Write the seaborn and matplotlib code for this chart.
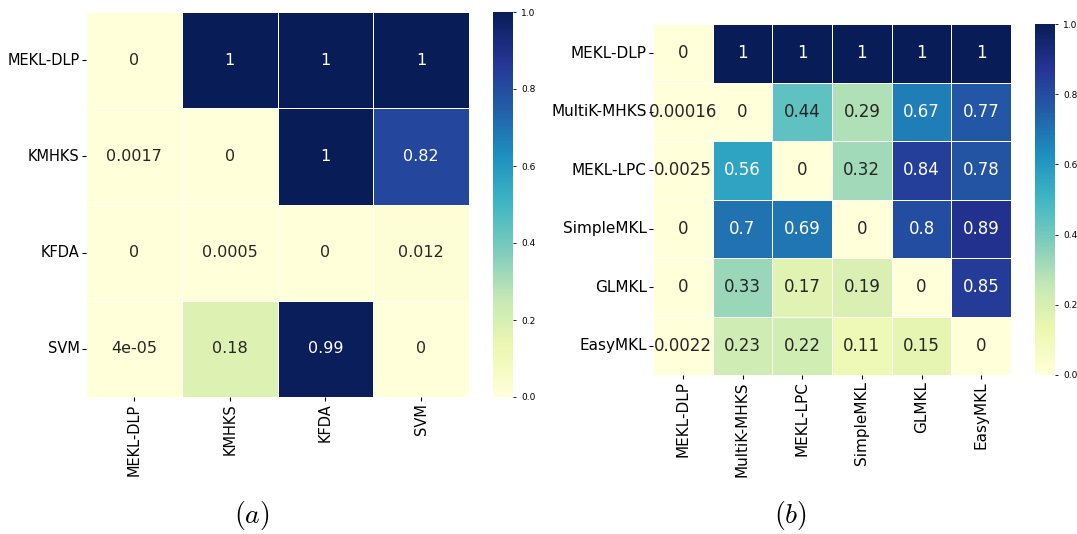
import matplotlib
matplotlib.use("Agg")
import matplotlib.pyplot as plt
import numpy as np
import pandas as pd
import seaborn as sns

# Panel (a): pairwise p-values
methods_a = ["MEKL-DLP", "KMHKS", "KFDA", "SVM"]
vals_a = [
    [0, 1, 1, 1],
    [0.0017, 0, 1, 0.82],
    [0, 0.0005, 0, 0.012],
    [4e-05, 0.18, 0.99, 0],
]

# Panel (b)
methods_b = ["MEKL-DLP", "MultiK-MHKS", "MEKL-LPC", "SimpleMKL", "GLMKL", "EasyMKL"]
vals_b = [
    [0, 1, 1, 1, 1, 1],
    [0.00016, 0, 0.44, 0.29, 0.67, 0.77],
    [0.0025, 0.56, 0, 0.32, 0.84, 0.78],
    [0, 0.7, 0.69, 0, 0.8, 0.89],
    [0, 0.33, 0.17, 0.19, 0, 0.85],
    [0.0022, 0.23, 0.22, 0.11, 0.15, 0],
]

df_a = pd.DataFrame(vals_a, index=methods_a, columns=methods_a)
df_b = pd.DataFrame(vals_b, index=methods_b, columns=methods_b)

plt.rcParams["mathtext.fontset"] = "cm"
W, H = 1077, 534
fig = plt.figure(figsize=(W / 100, H / 100), dpi=100)


def box(x0, y0, x1, y1):
    # pixel box -> figure fraction
    return [x0 / W, 1 - y1 / H, (x1 - x0) / W, (y1 - y0) / H]


ax1 = fig.add_axes(box(86, 12, 469, 397))
cax1 = fig.add_axes(box(493, 12, 513, 397))
ax2 = fig.add_axes(box(653, 24, 1011, 375))
cax2 = fig.add_axes(box(1035, 24, 1055, 375))

sns.heatmap(df_a, ax=ax1, cbar_ax=cax1, cmap="YlGnBu", vmin=0, vmax=1,
            annot=True, annot_kws={"size": 11.5}, linewidths=0.5, linecolor="white")
sns.heatmap(df_b, ax=ax2, cbar_ax=cax2, cmap="YlGnBu", vmin=0, vmax=1,
            annot=True, annot_kws={"size": 12}, linewidths=0.5, linecolor="white")

for ax, fs in ((ax1, 10.5), (ax2, 11)):
    ax.tick_params(labelsize=fs, length=3, pad=1.5)
    ax.set_yticklabels(ax.get_yticklabels(), rotation=0)
    ax.set_xticklabels(ax.get_xticklabels(), rotation=90)

for cax in (cax1, cax2):
    cax.tick_params(labelsize=6.5, length=2.5, width=0.6)
    cax.set_yticks([0, 0.2, 0.4, 0.6, 0.8, 1.0])
    cax.set_yticklabels(["0.0", "0.2", "0.4", "0.6", "0.8", "1.0"])

fig.text(252 / W, 1 - 515 / H, r"$(a)$", fontsize=20, ha="center", va="center")
fig.text(790 / W, 1 - 515 / H, r"$(b)$", fontsize=20, ha="center", va="center")

fig.savefig("out.png", dpi=100)
